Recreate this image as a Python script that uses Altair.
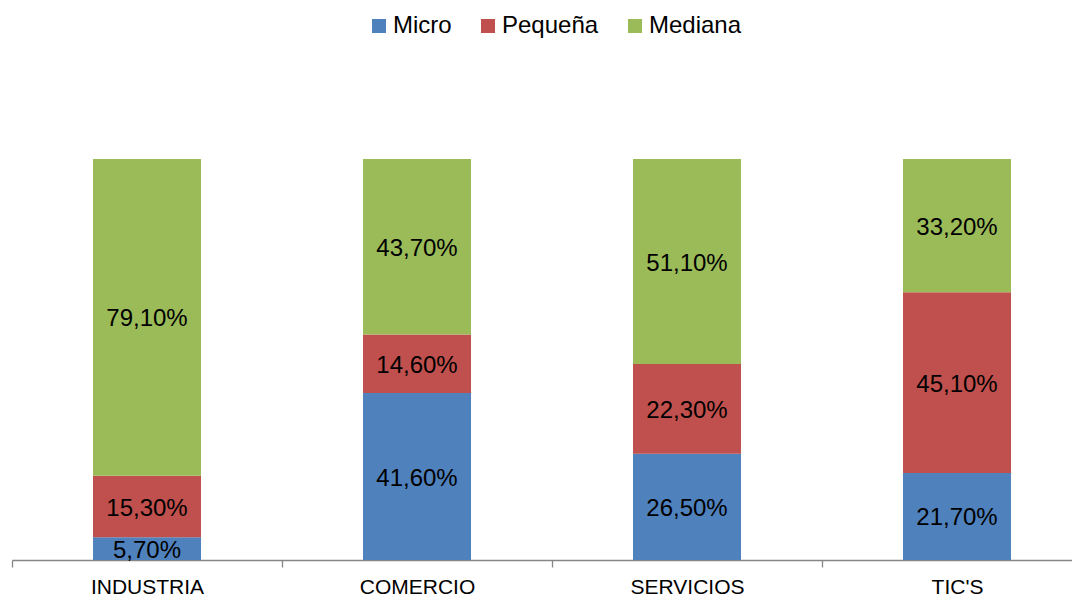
import json
import altair as alt
import pandas as pd

categories = ["INDUSTRIA", "COMERCIO", "SERVICIOS", "TIC'S"]
series = ["Micro", "Pequeña", "Mediana"]
micro = [5.7, 41.6, 26.5, 21.7]
pequena = [15.3, 14.6, 22.3, 45.1]
mediana = [79.1, 43.7, 51.1, 33.2]
colors = ["#4F81BD", "#C0504D", "#9BBB59"]

FONT = "Liberation Sans"
PLOT_W = 1060
STEP = 270  # pixel width of one category slot

rows = []
for i, cat in enumerate(categories):
    vals = [micro[i], pequena[i], mediana[i]]
    total = sum(vals)
    start = 0.0
    for s, v in zip(series, vals):
        end = start + v / total
        rows.append({
            "cat": cat, "idx": i, "xpos": i + 0.5, "serie": s, "value": v,
            "y0": start, "y1": end, "mid": (start + end) / 2,
            "label": f"{v:.2f}".replace(".", ",") + "%",
        })
        start = end
df = pd.DataFrame(rows)

xscale = alt.Scale(domain=[0, PLOT_W / STEP], nice=False, zero=False, padding=0)
label_expr = json.dumps(categories) + "[datum.value]"

base = alt.Chart(df)

bars = base.mark_bar(width=108).encode(
    x=alt.X("xpos:Q", scale=xscale,
            axis=alt.Axis(title=None, values=list(range(len(categories))),
                          labelExpr=label_expr, labelOffset=STEP / 2,
                          labelFlush=False, labelOverlap=False, grid=False,
                          domainColor="#868686", tickColor="#868686",
                          tickSize=7, domainWidth=1.3, tickWidth=1.3,
                          labelFont=FONT, labelFontSize=21, labelColor="#000000",
                          labelPadding=9)),
    y=alt.Y("y0:Q", scale=alt.Scale(domain=[0, 1]), axis=None),
    y2="y1:Q",
    color=alt.Color("serie:N", scale=alt.Scale(domain=series, range=colors),
                    legend=alt.Legend(title=None, orient="none", direction="horizontal",
                                      legendX=355, legendY=-145, padding=0,
                                      symbolType="square", symbolSize=196,
                                      symbolStrokeWidth=0, labelOffset=2,
                                      columnPadding=24, labelFont=FONT,
                                      labelFontSize=24, labelColor="#000000")),
)

text = base.mark_text(font=FONT, fontSize=24, color="#000000", dy=2).encode(
    x=alt.X("xpos:Q", scale=xscale),
    y=alt.Y("mid:Q", scale=alt.Scale(domain=[0, 1])),
    text="label:N",
)

chart = (bars + text).properties(
    width=PLOT_W, height=401,
    autosize=alt.AutoSizeParams(type="none"),
    padding={"left": 4, "top": 151, "right": 0, "bottom": 37},
).configure_view(strokeWidth=0)

chart.save("out.html", embed_options={"renderer": "svg", "actions": False})
